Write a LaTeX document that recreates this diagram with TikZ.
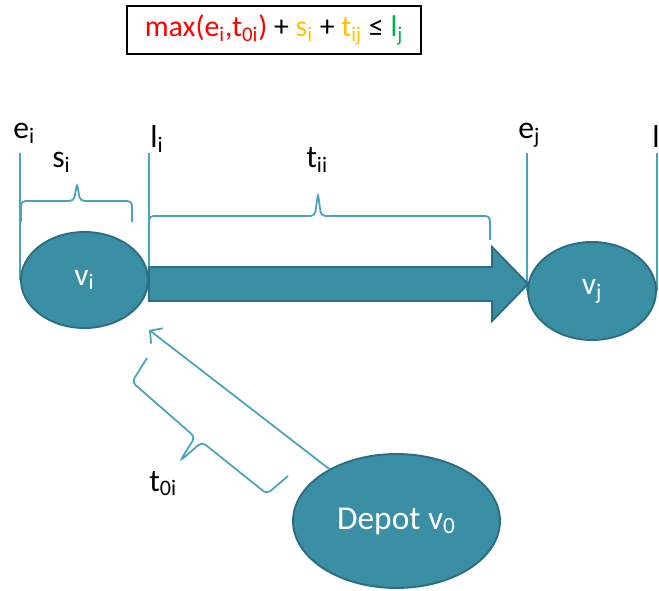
\documentclass[tikz,border=0pt]{standalone}
\usepackage{fontspec}
\setmainfont{Carlito}
\usetikzlibrary{shapes.geometric,positioning,arrows.meta,calc,backgrounds}

\definecolor{nodefill}{HTML}{3A8FA5}
\definecolor{nodeline}{HTML}{2C6E80}
\definecolor{guide}{HTML}{4BA3B9}
\definecolor{maxred}{HTML}{FF0000}
\definecolor{svcorange}{HTML}{FFC000}
\definecolor{latestgreen}{HTML}{00B050}
\newcommand{\lowsub}[1]{\textsubscript{#1}}

\begin{document}
\begin{tikzpicture}[x=0.02cm, y=-0.02cm,
  vertex/.style={ellipse, draw=nodeline, line width=1.1pt, fill=nodefill, text=white, inner sep=0pt, font=\fontsize{18}{21}\selectfont},
  bigarrow/.style={draw=nodeline, line width=1.1pt, fill=nodefill},
  tick/.style={draw=guide, line width=1pt},
  brace/.style={draw=guide, line width=1pt, rounded corners=2.5pt},
  arrow/.style={draw=guide, line width=1pt, -{Straight Barb[length=5pt,width=11pt]}},
  tag/.style={anchor=base west, inner sep=0pt, font=\fontsize{18}{21}\selectfont},
]
\useasboundingbox (0,0) rectangle (659,591);
\clip (0,0) rectangle (659,591);

% === Time-window constraint ===
\node[draw, line width=1.5pt, minimum width=5.88cm, minimum height=0.96cm, font=\fontsize{17}{20}\selectfont] (formula) at (274,30)
  {{\color{maxred}max(e\lowsub{i},t\lowsub{0i})} + {\color{svcorange}s\lowsub{i}} + {\color{svcorange}t\lowsub{ij}} ≤ {\color{latestgreen}l\lowsub{j}}};

% === Customers and depot ===
\node[vertex, minimum width=2.54cm, minimum height=1.92cm] (vi) at (84.5,280) {v\lowsub{i}};
\node[vertex, minimum width=2.56cm, minimum height=1.96cm] (vj) at (592,291) {v\lowsub{j}};
\node[vertex, minimum width=4.14cm, minimum height=2.68cm, font=\fontsize{19}{22}\selectfont] (depot) at (396.5,521) {Depot v\lowsub{0}};

% === Travel v_i -> v_j ===
\coordinate (tip) at ($(vj.west)+(1,-7)$);
\draw[bigarrow] ($(vi.east |- tip)+(0,-17)$) -- ($(tip)+(-36,-17)$) -- ($(tip)+(-36,-37)$) -- (tip)
  -- ($(tip)+(-36,37)$) -- ($(tip)+(-36,17)$) -- ($(vi.east |- tip)+(0,17)$) -- cycle;

% === Depot -> v_i ===
\draw[arrow, shorten >=0.49cm] (depot) -- (vi);

% === Window ticks ===
\begin{scope}[on background layer]
  \draw[tick] (vi.west |- 0,153) -- (vi.west);
  \draw[tick] (vi.east |- 0,153) -- (vi.east);
  \draw[tick] (vj.west |- 0,153) -- (vj.west);
  \draw[tick] (vj.east |- 0,153) -- (vj.east);
\end{scope}

% braces
\draw[brace] (21,222) -- (21,201) -- (74,201) -- (77,183) -- (80,201) -- (132,201) -- (132,222);
\draw[brace] (149,240) -- (149,216) -- (315,216) -- (318,193) -- (321,216) -- (490,216) -- (490,240);
\draw[brace] (147,358) -- (132,382) -- (195,437) -- (180,461) -- (202,442) -- (267,494) -- (288,476);

% === Labels ===
\node[tag] (ei) at (13,139) {e\lowsub{i}};
\node[tag] (si) at (52,168) {s\lowsub{i}};
\node[tag] (li) at (150,148) {l\lowsub{i}};
\node[tag] (tii) at (306,168) {t\lowsub{ii}};
\node[tag] (ej) at (518,139) {e\lowsub{j}};
\node[tag] (lj) at (652,148) {l\lowsub{j}};
\node[tag] (toi) at (149,491) {t\lowsub{0i}};

\end{tikzpicture}
\end{document}
